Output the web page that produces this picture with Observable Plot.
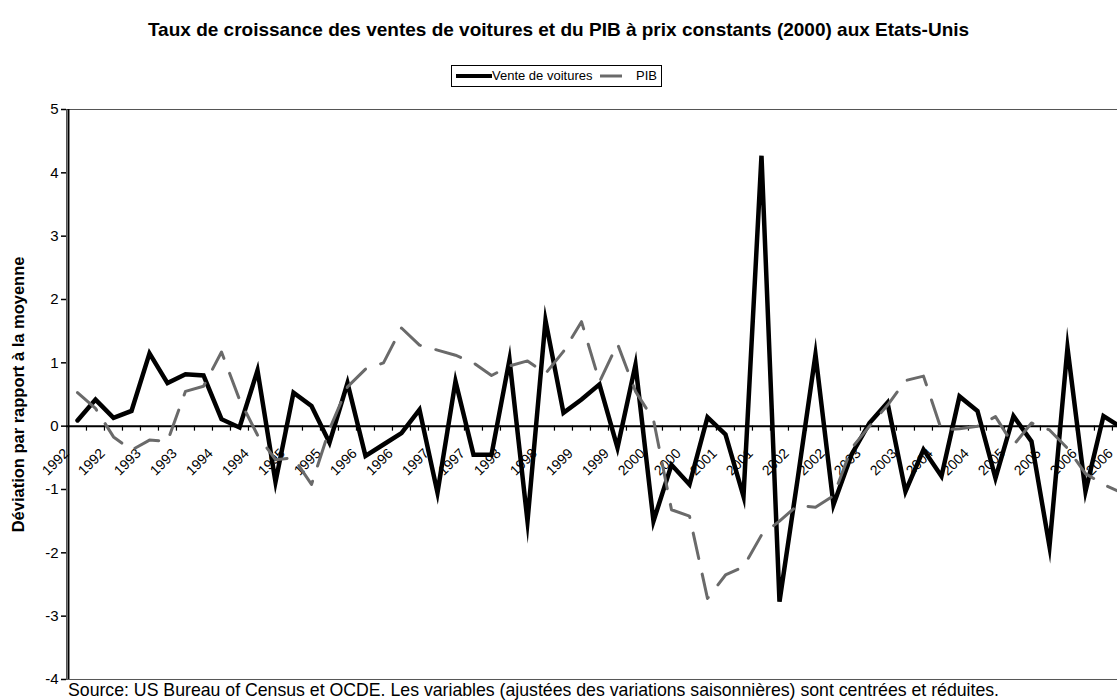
<!DOCTYPE html>
<html><head><meta charset="utf-8">
<script src="https://cdn.jsdelivr.net/npm/d3@7"></script>
<script src="https://cdn.jsdelivr.net/npm/@observablehq/plot@0.6"></script>
<style>
html,body{margin:0;padding:0;background:#fff;overflow:hidden;}
#wrap{position:relative;width:1117px;height:700px;overflow:hidden;font-family:"Liberation Sans",Arial,sans-serif;color:#000;}
#title{position:absolute;top:19px;left:0;width:1117px;text-align:center;font-weight:bold;font-size:19px;}
#legend{position:absolute;left:451px;top:65px;width:211px;height:22px;border:1px solid #000;box-sizing:border-box;font-size:13px;}
#legend svg{position:absolute;left:0;top:0;}
#legend span{position:absolute;top:2px;}
#chart{position:absolute;left:0;top:95px;width:1160px;}
#chart svg{max-width:none !important;}
#caption{position:absolute;left:68px;top:680px;font-size:17.7px;white-space:nowrap;}
</style></head>
<body><div id="wrap">
<div id="title">Taux de croissance des ventes de voitures et du PIB à prix constants (2000) aux Etats-Unis</div>
<div id="legend">
<svg width="209" height="20"><line x1="4" x2="40" y1="10" y2="10" stroke="#000" stroke-width="4"/><line x1="148" x2="170" y1="10" y2="10" stroke="#6a6a6a" stroke-width="3"/></svg>
<span style="left:40px">Vente de voitures</span><span style="left:184px">PIB</span>
</div>
<div id="chart"></div>
<div id="caption">Source: US Bureau of Census et OCDE. Les variables (ajustées des variations saisonnières) sont centrées et réduites.</div>
</div>
<script>
const years = [1992,1993,1994,1995,1996,1997,1998,1999,2000,2001,2002,2003,2004,2005,2006];
const quarterNames = ["T1","T2","T3","T4"];
const yTicks = [-4,-3,-2,-1,0,1,2,3,4,5];
const yLabel = "Déviation par rapport à la moyenne";

// Vente de voitures (quarterly, 1992T1 .. 2006T4)
const ventes = [
  0.09, 0.42, 0.13, 0.24, 1.15, 0.68, 0.82, 0.80, 0.11, -0.02,
  0.88, -0.88, 0.53, 0.32, -0.26, 0.68, -0.47, -0.29, -0.11, 0.26,
  -1.05, 0.71, -0.45, -0.45, 1.05, -1.50, 1.67, 0.21, 0.42, 0.66,
  -0.34, 0.97, -1.50, -0.61, -0.92, 0.14, -0.13, -1.11, 4.27, -2.77,
  -0.85, 1.13, -1.24, -0.45, 0.05, 0.37, -1.03, -0.37, -0.79, 0.47,
  0.24, -0.82, 0.16, -0.24, -1.90, 1.24, -1.03, 0.16, -0.02, -0.30
];
// PIB
const pib = [
  0.53, 0.28, -0.17, -0.38, -0.22, -0.24, 0.55, 0.63, 1.17, 0.42,
  -0.14, -0.53, -0.50, -0.92, -0.05, 0.62, 0.90, 1.00, 1.55, 1.28,
  1.20, 1.12, 1.00, 0.80, 0.95, 1.03, 0.83, 1.18, 1.65, 0.70,
  1.30, 0.55, 0.10, -1.32, -1.42, -2.72, -2.35, -2.22, -1.72, -1.50,
  -1.25, -1.28, -1.10, -0.35, 0.00, 0.33, 0.72, 0.79, -0.06, -0.04,
  0.00, 0.15, -0.30, 0.05, -0.06, -0.35, -0.75, -0.92, -1.05, -1.10
];

const quarters = years.flatMap(y => quarterNames.map(q => `${y}${q}`));
const rows = quarters.map((q, i) => ({q, ventes: ventes[i], pib: pib[i]}));
const tickLabels = quarters.map((q, i) => ({q, year: q.slice(0, 4), i})).filter(d => d.i % 2 === 0);

const marginLeft = 66, marginRight = 5, marginTop = 14, marginBottom = 3;
const step = 18.07;
const width = marginLeft + marginRight + step * quarters.length;
const height = 587;

const chart = Plot.plot({
  width, height, marginLeft, marginRight, marginTop, marginBottom,
  style: {fontFamily: "Liberation Sans, Arial, sans-serif", color: "#000", background: "#fff", overflow: "visible", maxWidth: "none"},
  x: {type: "point", domain: quarters, padding: 0.5, axis: null},
  y: {domain: [-4, 5], axis: null},
  marks: [
    Plot.frame({stroke: "#555", strokeWidth: 1}),
    Plot.ruleX([0], {x: () => quarters[0], dx: -step / 2, stroke: "#000", strokeWidth: 2}),
    Plot.axisY({ticks: yTicks, tickSize: 5, tickPadding: 3, fontSize: 15, tickFormat: d => String(d), strokeWidth: 1.5}),
    Plot.text([yLabel], {frameAnchor: "left", textAnchor: "middle", rotate: -90, dx: -48, fontWeight: "bold", fontSize: 16.5}),
    Plot.ruleY([0], {stroke: "#000", strokeWidth: 2}),
    Plot.ruleX(quarters.slice(1), {x: d => d, y1: () => 0, y2: () => 0, dx: -step / 2, insetBottom: -5, stroke: "#000", strokeWidth: 1.2}),
    Plot.text(tickLabels, {x: "q", y: () => 0, text: "year", rotate: -45, textAnchor: "end", dx: -11, dy: 25, fontSize: 14}),
    Plot.line(rows, {x: "q", y: "ventes", stroke: "#000", strokeWidth: 4.5, strokeLinejoin: "miter", strokeMiterlimit: 10}),
    Plot.line(rows, {x: "q", y: "pib", stroke: "#6a6a6a", strokeWidth: 3, strokeDasharray: "26,16"})
  ]
});
document.getElementById("chart").appendChild(chart);
</script>
</body></html>
